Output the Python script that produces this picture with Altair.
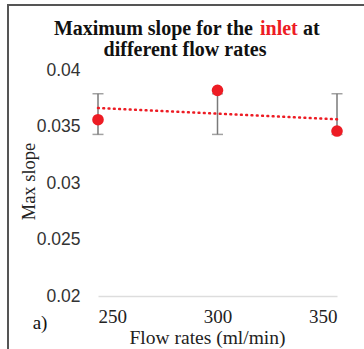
import altair as alt
import pandas as pd

flow = [250, 300, 350]
slope = [0.0356, 0.0382, 0.0346]
err_low = [0.0343, 0.0343, 0.0343]
err_high = [0.0379, 0.0379, 0.0379]
x_ticks = [250, 300, 350]
y_ticks = [0.02, 0.025, 0.03, 0.035, 0.04]

df = pd.DataFrame({"flow": flow, "slope": slope, "lo": err_low, "hi": err_high})

RED = "#ED1C24"
GRAY = "#7a7a7a"
SERIF = "Liberation Serif"
SANS = "Liberation Sans"

xenc = alt.X("flow:Q", scale=alt.Scale(domain=[250, 350], nice=False),
             axis=alt.Axis(values=x_ticks, ticks=False, grid=False, labelPadding=11,
                           labelFont=SERIF, labelFontSize=19, labelColor="#222",
                           domainColor="#dddddd", domainWidth=1.5,
                           title="Flow rates (ml/min)", titleFont=SERIF, titleFontSize=19.5,
                           titleFontWeight="normal", titleColor="#222",
                           titleBaseline="alphabetic", titleX=109, titleY=47))
yscale = alt.Scale(domain=[0.02, 0.04], nice=False)
yenc = alt.Y("slope:Q", scale=yscale,
             axis=alt.Axis(values=y_ticks, ticks=False, grid=False, domain=False,
                           labelPadding=18, labelFont=SANS, labelFontSize=17.5,
                           labelColor="#333", labelExpr="format(datum.value, '~g')",
                           title="Max slope", titleFont=SERIF, titleFontSize=18.5,
                           titleFontWeight="normal", titleColor="#222", titleAngle=270,
                           titleAlign="center", titleBaseline="middle",
                           titleX=-70, titleY=111))

base = alt.Chart(df)

bars = base.mark_rule(color=GRAY, strokeWidth=1.5).encode(
    x=xenc, y=alt.Y("lo:Q", scale=yscale), y2="hi:Q")
cap_hi = base.mark_tick(color=GRAY, thickness=1.5, size=11, orient="horizontal").encode(
    x="flow:Q", y=alt.Y("hi:Q", scale=yscale))
cap_lo = base.mark_tick(color=GRAY, thickness=1.5, size=11, orient="horizontal").encode(
    x="flow:Q", y=alt.Y("lo:Q", scale=yscale))
trend = base.transform_regression("flow", "slope").mark_line(
    color=RED, strokeWidth=2.5, strokeDash=[0.8, 4.5], strokeCap="round").encode(
    x="flow:Q", y=alt.Y("slope:Q", scale=yscale))
pts = base.mark_circle(color=RED, size=135, opacity=1).encode(x="flow:Q", y=yenc)

one = alt.Data(values=[{"k": 1}])

def txt(s, x, y, color="#111", align="center", weight="bold", size=20):
    return alt.Chart(one).mark_text(text=s, font=SERIF, fontSize=size, fontWeight=weight,
                                    color=color, align=align, baseline="alphabetic").encode(
        x=alt.value(x), y=alt.value(y))

t1 = txt("Maximum slope for the", 155, -35.5, align="right")
t2 = txt("inlet", 162, -35.5, color=RED, align="left")
t3 = txt("at", 205, -35.5, align="left")
t4 = txt("different flow rates", 87, -14.5)
ta = txt("a)", -58, 259, weight="normal", size=19)

border_l = alt.Chart(one).mark_rule(color="#555", strokeWidth=2).encode(
    x=alt.value(-90), y=alt.value(-65), y2=alt.value(290))
border_t = alt.Chart(one).mark_rule(color="#555", strokeWidth=2).encode(
    x=alt.value(-91), x2=alt.value(280), y=alt.value(-65))

chart = alt.layer(bars, cap_hi, cap_lo, trend, pts, t1, t2, t3, t4, ta, border_l, border_t).properties(
    width=239, height=226,
    autosize=alt.AutoSizeParams(type="none"),
    padding={"left": 98, "top": 70, "right": 27, "bottom": 53},
    background="white",
).configure_view(stroke=None)

chart.save("out.html", embed_options={"renderer": "svg", "actions": False})
